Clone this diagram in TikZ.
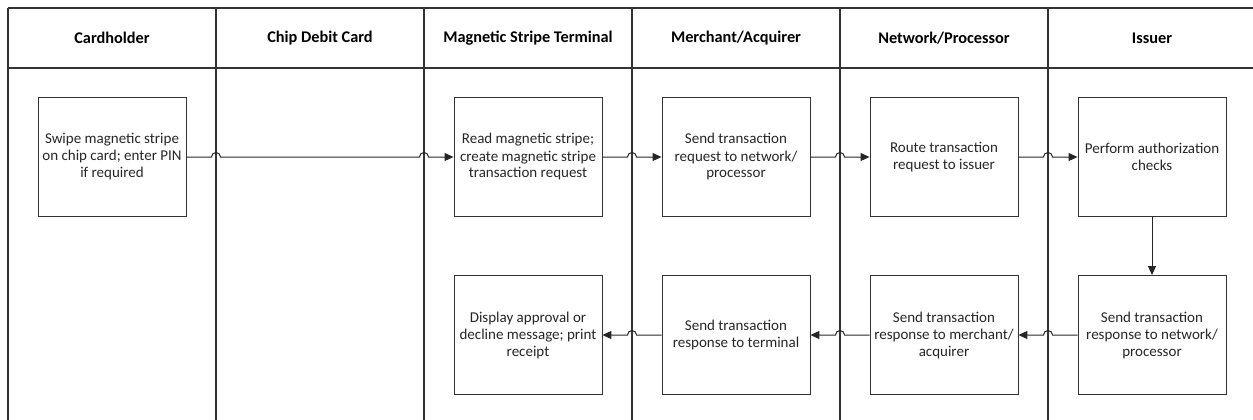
\documentclass[tikz,border=0pt]{standalone}
\usepackage{fontspec}
\setmainfont{Carlito}
\usetikzlibrary{arrows.meta,calc}
\begin{document}
\begin{tikzpicture}[x=1pt,y=-1pt,
  lane/.style={draw=black!80, line width=1.3pt},
  proc/.style={draw=black!80, line width=0.9pt, minimum width=148pt, minimum height=119pt, align=center, font=\fontsize{15}{17}\selectfont, text=black!85, inner sep=2pt},
  hdr/.style={font=\bfseries\fontsize{16.3}{18}\selectfont, text=black},
  flow/.style={draw=black!85, line width=1pt, -{Triangle[length=9pt,width=8pt]}},
  hop/.style={radius=4.5pt}]
\useasboundingbox (0,0) rectangle (1253,420);
\begin{scope}
\clip (0,0) rectangle (1253,420);
\draw[lane] (8,8) -- (1262,8);
\draw[lane] (8,68) -- (1262,68);
\foreach \x in {8,216,424,632,840,1048} \draw[lane] (\x,8) -- (\x,425);
\end{scope}
\coordinate (d1) at (216,0);
\coordinate (d2) at (424,0);
\coordinate (d3) at (632,0);
\coordinate (d4) at (840,0);
\coordinate (d5) at (1048,0);
% headers
\node[hdr] (h1) at (112,38) {Cardholder};
\node[hdr] (h2) at (320,38) {Chip Debit Card};
\node[hdr] (h3) at (528,38) {Magnetic Stripe Terminal};
\node[hdr] (h4) at (736,38) {Merchant/Acquirer};
\node[hdr] (h5) at (944,38) {Network/Processor};
\node[hdr] (h6) at (1152,38) {Issuer};
% top row
\node[proc] (c1) at (112,157) {Swipe magnetic stripe\\on chip card; enter PIN\\if required};
\node[proc] (t1) at (528,157) {Read magnetic stripe;\\create magnetic stripe\\transaction request};
\node[proc] (m1) at (736,157) {Send transaction\\request to network/\\processor};
\node[proc] (n1) at (944,157) {Route transaction\\request to issuer};
\node[proc] (i1) at (1152,157) {Perform authorization\\checks};
% bottom row
\node[proc] (t2) at (528,335) {Display approval or\\decline message; print\\receipt};
\node[proc] (m2) at (736,335) {Send transaction\\response to terminal};
\node[proc] (n2) at (944,335) {Send transaction\\response to merchant/\\acquirer};
\node[proc] (i2) at (1152,335) {Send transaction\\response to network/\\processor};
% connectors
\draw[flow] (c1.east) -- ($(c1.east -| d1)+(-4.5,0)$) arc[start angle=180,end angle=0,hop]
  -- ($(c1.east -| d2)+(-4.5,0)$) arc[start angle=180,end angle=0,hop] -- (t1.west);
\draw[flow] (t1.east) -- ($(t1.east -| d3)+(-4.5,0)$) arc[start angle=180,end angle=0,hop] -- (m1.west);
\draw[flow] (m1.east) -- ($(m1.east -| d4)+(-4.5,0)$) arc[start angle=180,end angle=0,hop] -- (n1.west);
\draw[flow] (n1.east) -- ($(n1.east -| d5)+(-4.5,0)$) arc[start angle=180,end angle=0,hop] -- (i1.west);
\draw[flow] (i1.south) -- (i2.north);
\draw[flow] (i2.west) -- ($(i2.west -| d5)+(4.5,0)$) arc[start angle=0,end angle=180,hop] -- (n2.east);
\draw[flow] (n2.west) -- ($(n2.west -| d4)+(4.5,0)$) arc[start angle=0,end angle=180,hop] -- (m2.east);
\draw[flow] (m2.west) -- ($(m2.west -| d3)+(4.5,0)$) arc[start angle=0,end angle=180,hop] -- (t2.east);
\end{tikzpicture}
\end{document}
